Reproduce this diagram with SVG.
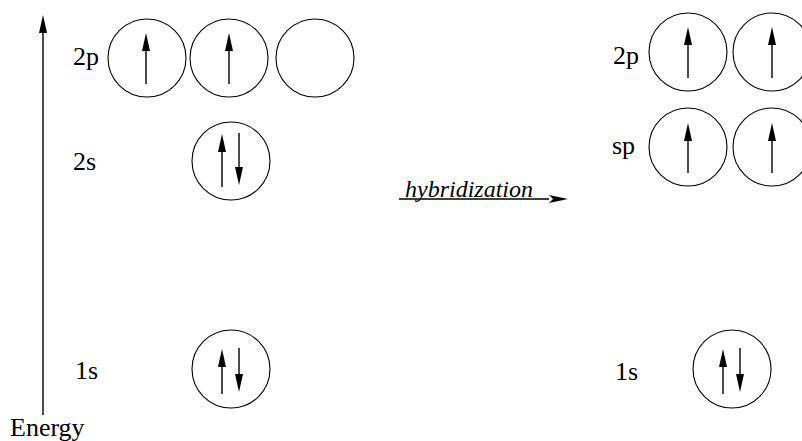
<svg xmlns="http://www.w3.org/2000/svg" width="802" height="441" viewBox="0 0 802 441">
<defs>
<marker id="ah" markerUnits="userSpaceOnUse" markerWidth="20" markerHeight="10" viewBox="0 -5 20 10" refX="0" refY="0" orient="auto" overflow="visible">
<path d="M0,-4 L18,0 L0,4 Z" fill="#000"/>
</marker>
<marker id="ah2" markerUnits="userSpaceOnUse" markerWidth="20" markerHeight="10" viewBox="0 -5 20 10" refX="0" refY="0" orient="auto" overflow="visible">
<path d="M0,-4 L19,0 L0,4 L4,0 Z" fill="#000"/>
</marker>
</defs>
<style>
.orb{fill:none;stroke:#000;stroke-width:1.1}
.spin{stroke:#000;stroke-width:1.4;fill:none;marker-end:url(#ah)}
.con{stroke:#000;stroke-width:1.4;fill:none}
</style>
<rect width="802" height="441" fill="#fff"/>
<g id="connectors">
<line class="con" x1="43" y1="415" x2="43" y2="33" marker-end="url(#ah)"/>
<line class="con" x1="399" y1="199" x2="549" y2="199" marker-end="url(#ah2)"/>
</g>
<g id="energy-label"><text x="10" y="436" font-family="Liberation Serif" font-size="26">Energy</text></g>
<g id="hybridization-label"><text x="405" y="197" font-family="Liberation Serif" font-style="italic" font-size="24">hybridization</text></g>
<g id="left-2p">
<text x="73" y="65" font-family="Liberation Serif" font-size="26">2p</text>
<circle class="orb" cx="147" cy="58" r="39"/>
<line class="spin" x1="146" y1="84" x2="146" y2="51"/>
<circle class="orb" cx="229" cy="58" r="39"/>
<line class="spin" x1="229" y1="84" x2="229" y2="51"/>
<circle class="orb" cx="315" cy="58" r="39"/>
</g>
<g id="left-2s">
<text x="73" y="170" font-family="Liberation Serif" font-size="26">2s</text>
<circle class="orb" cx="231" cy="161" r="39"/>
<line class="spin" x1="222" y1="187" x2="222" y2="152"/>
<line class="spin" x1="239" y1="133" x2="239" y2="167"/>
</g>
<g id="left-1s">
<text x="75" y="379" font-family="Liberation Serif" font-size="26">1s</text>
<circle class="orb" cx="231" cy="369" r="39"/>
<line class="spin" x1="222" y1="394" x2="222" y2="367"/>
<line class="spin" x1="239" y1="348" x2="239" y2="374"/>
</g>
<g id="right-2p">
<text x="613" y="64" font-family="Liberation Serif" font-size="26">2p</text>
<circle class="orb" cx="688" cy="52" r="39"/>
<line class="spin" x1="688" y1="78" x2="688" y2="45"/>
<circle class="orb" cx="772" cy="52" r="39"/>
<line class="spin" x1="772" y1="78" x2="772" y2="45"/>
</g>
<g id="right-sp">
<text x="612" y="154" font-family="Liberation Serif" font-size="26">sp</text>
<circle class="orb" cx="688" cy="147" r="39"/>
<line class="spin" x1="688" y1="173" x2="688" y2="141"/>
<circle class="orb" cx="772" cy="147" r="39"/>
<line class="spin" x1="772" y1="173" x2="772" y2="141"/>
</g>
<g id="right-1s">
<text x="615" y="380" font-family="Liberation Serif" font-size="26">1s</text>
<circle class="orb" cx="732" cy="369" r="39"/>
<line class="spin" x1="723" y1="394" x2="723" y2="367"/>
<line class="spin" x1="740" y1="348" x2="740" y2="374"/>
</g>
</svg>
